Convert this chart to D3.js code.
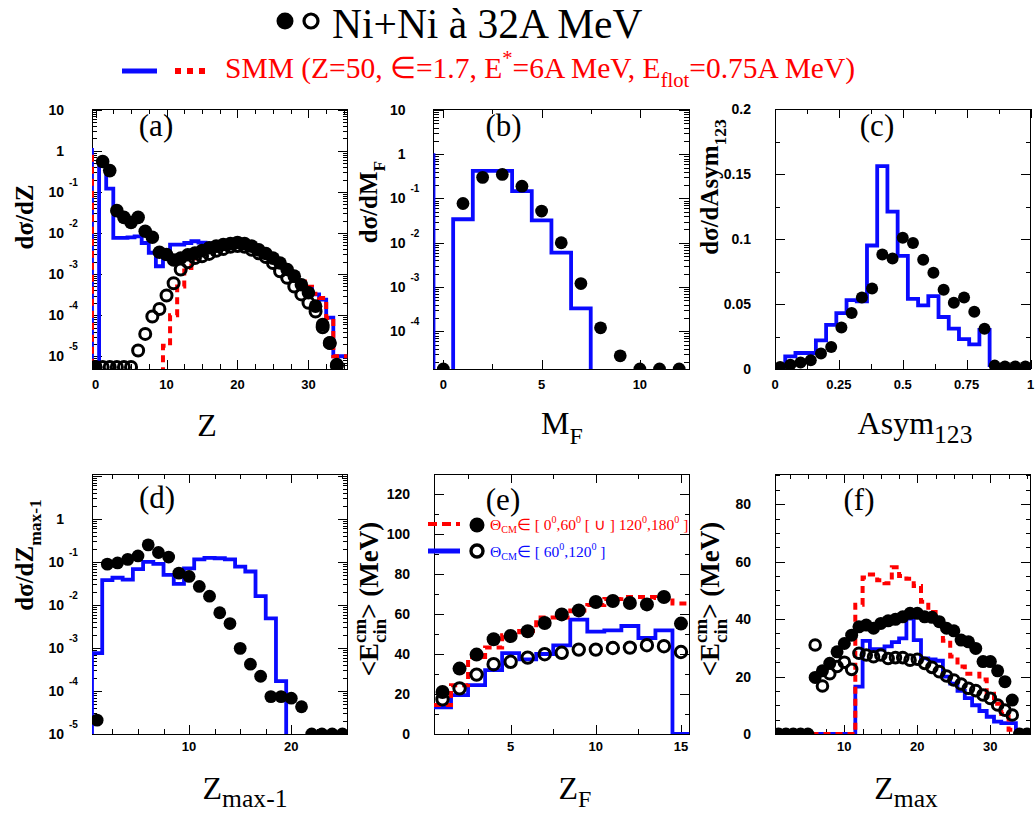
<!DOCTYPE html>
<html><head><meta charset="utf-8">
<script src="https://cdn.jsdelivr.net/npm/d3@7"></script>
<style>body{margin:0;background:#fff}svg{display:block}text{white-space:pre}</style>
</head><body>
<svg id="c" width="1035" height="818"></svg>
<script>
// ---------------- DATA ----------------
// (a) dσ/dZ
const aZ = [0,1,2,3,4,5,6,7,8,9,10,11,12,13,14,15,16,17,18,19,20,21,22,23,24,25,26,27,28,29,30,31,32,33,34];
const aFilled = [5.5e-6,0.55,0.33,0.035,0.024,0.018,0.024,0.011,0.0079,0.0034,0.0030,0.0022,0.00245,0.00295,0.00324,0.00372,0.00437,0.00479,0.00525,0.0055,0.00589,0.0055,0.00479,0.00389,0.00316,0.00245,0.00186,0.00129,0.00089,0.00055,0.00035,0.000166,0.000059,0.000021,0.0000063];
const aOpen = [5.5e-6,5.5e-6,5.5e-6,5.5e-6,5.5e-6,5.5e-6,1.38e-5,3.5e-5,9.3e-5,1.41e-4,3.0e-4,6.0e-4,1.29e-3,1.95e-3,2.45e-3,2.7e-3,3.1e-3,3.7e-3,4.1e-3,4.6e-3,4.8e-3,4.6e-3,3.9e-3,3.2e-3,2.6e-3,1.86e-3,1.17e-3,8.1e-4,5.0e-4,3.2e-4,2.0e-4,1.23e-4,5.1e-5,2.1e-5,5.9e-6];
const aBinZ = [-1,0,1,2,3,4,5,6,7,8,9,10,11,12,13,14,15,16,17,18,19,20,21,22,23,24,25,26,27,28,29,30,31,32,33,34,35];
const aBlue = [1.05,0,0.6,0.12,0.0076,0.0076,0.0078,0.0083,0.0057,0.0033,0.00155,0.0030,0.0052,0.0052,0.0057,0.0063,0.0058,0.0056,0.0052,0.005,0.005,0.0048,0.0047,0.0042,0.0035,0.0028,0.0022,0.00166,0.00117,0.00083,0.00063,0.00047,0.00032,0.00024,0.000087,0.00001,0.00001];
const aRed = [1.05,0,0,0,0,0,0,0,0,0,0,1.8e-5,1.0e-4,5.0e-4,1.4e-3,2.4e-3,3.2e-3,4.0e-3,4.5e-3,4.8e-3,4.9e-3,4.9e-3,4.6e-3,4.1e-3,3.4e-3,2.7e-3,2.1e-3,1.6e-3,1.15e-3,8.5e-4,6.6e-4,4.9e-4,3.3e-4,2.6e-4,8.5e-5,1.0e-5,1.0e-5];

// (b) dσ/dM_F
const bM = [0,1,2,3,4,5,6,7,8,9,10,11,12];
const bFilled = [1.41e-5,0.077,0.30,0.35,0.19,0.052,0.010,0.0012,1.2e-4,2.8e-5,1.41e-5,1.41e-5,1.41e-5];
const bBinM = [-1,0,1,2,3,4,5,6,7,8,9,10,11,12];
const bBlue = [0.95,0,0.034,0.42,0.42,0.146,0.032,0.006,3.3e-4,0,0,0,0,0];

// (c) dσ/dAsym123
const cAsym = [0.02,0.06,0.10,0.14,0.18,0.22,0.26,0.30,0.34,0.38,0.42,0.46,0.50,0.54,0.58,0.62,0.66,0.70,0.74,0.78,0.82,0.86,0.90,0.94,0.98];
const cFilled = [0.0015,0.0033,0.005,0.0067,0.012,0.017,0.032,0.043,0.055,0.062,0.088,0.085,0.101,0.097,0.084,0.074,0.061,0.051,0.055,0.044,0.031,0.0026,0.002,0.002,0.002];
const cBlue = [0.002,0.0097,0.0123,0.0123,0.022,0.034,0.043,0.053,0.052,0.095,0.156,0.121,0.087,0.054,0.049,0.056,0.040,0.031,0.023,0.019,0.030,0.003,0.002,0.001,0.001];

// (d) dσ/dZmax-1
const dZ = [1,2,3,4,5,6,7,8,9,10,11,12,13,14,15,16,17,18,19,20,21,22,23,24,25];
const dFilled = [2.1e-5,0.089,0.095,0.115,0.138,0.25,0.166,0.13,0.055,0.046,0.027,0.016,0.0066,0.0037,9.8e-4,4.2e-4,2.2e-4,7.4e-5,7.4e-5,6.8e-5,4.3e-5,1.0e-5,1.0e-5,1.0e-5,1.0e-5];
const dBinZ = [0,1,2,3,4,5,6,7,8,9,10,11,12,13,14,15,16,17,18,19,20];
const dBlue = [0,7.6e-4,0.038,0.043,0.039,0.068,0.10,0.09,0.05,0.031,0.071,0.115,0.125,0.122,0.115,0.078,0.06,0.016,0.0049,1.7e-4,0];

// (e) <Ecin> vs ZF
const eZ = [1,2,3,4,5,6,7,8,9,10,11,12,13,14,15];
const eFilled = [21,32.7,39.7,47.4,49,51.4,55.5,59.8,61.8,66,66.5,65.5,64.8,68.5,55.2];
const eOpen = [17.3,22.8,29.7,34.9,36.1,38.2,39.9,40.6,42.2,42.2,43,43.2,44.4,43.9,41];
const eBlue = [13.3,19.4,24.4,31.9,40.4,37.3,40,44.3,57.2,51.2,51.8,54,48,51.8,0];
const eRed = [14.5,24.4,38.5,43.2,49.4,51.5,58.2,58.2,61.8,64.5,67.5,68.5,68.5,68,65.2];

// (f) <Ecin> vs Zmax
const fZ = [1,2,3,4,5,6,7,8,9,10,11,12,13,14,15,16,17,18,19,20,21,22,23,24,25,26,27,28,29,30,31,32,33,34,35];
const fFilled = [0,0,0,0,0,19.7,22,24.6,28.6,31.5,34.4,37.3,37.9,36.8,38.5,39.4,39.9,40.8,42.0,42.0,40.8,40.6,39.1,36.8,35.9,32.7,32.1,29.8,25.2,25.2,22,18.2,11.8,0,0];
const fOpenZ = [6,7,8,9,10,11,12,13,14,15,16,17,18,19,20,21,22,23,24,25,26,27,28,29,30,31,32,33];
const fOpen = [31,16.7,21,23.5,25,22.5,28.1,27.5,26.9,27.5,26.3,26.6,26.6,25.7,26,24.6,23.2,21.7,20.2,18.8,17.4,15.9,15.1,13.6,12.4,10.1,8.3,6.6];
const fBinZ = [6,7,8,9,10,11,12,13,14,15,16,17,18,19,20,21,22,23,24,25,26,27,28,29,30,31,32,33,34];
const fBlue = [0,0,0,0,0,0,16.5,32.4,29.5,29.5,30.5,32,33.3,40.2,32.7,26.3,26,25.5,20,17.5,15,12.5,10,8,6,4.3,3.8,3.8,0];
const fRed = [0,0,0,0,0,0,45,54.5,55.5,53.5,52.5,58,55,54,51.5,46,42.5,39.5,32.5,27,23.5,21,21,19,14,10.5,7,1.5,0];

// tick labels
const logLabA = {v:[10,1,0.1,0.01,0.001,1e-4,1e-5], base:['10','1','10','10','10','10','10'], exp:['','','-1','-2','-3','-4','-5']};
const logLabB = {v:[10,1,0.1,0.01,0.001,1e-4], base:['10','1','10','10','10','10'], exp:['','','-1','-2','-3','-4']};
const logLabD = {v:[1,0.1,0.01,0.001,1e-4,1e-5], base:['1','10','10','10','10','10'], exp:['','-1','-2','-3','-4','-5']};
const cYLab = [0,0.05,0.1,0.15,0.2], cYTxt = ['0','0.05','0.1','0.15','0.2'];
const eYLab = [0,20,40,60,80,100,120];
const fYLab = [0,20,40,60,80];
const aXLab = [0,10,20,30], bXLab = [0,5,10], cXLab = [0,0.25,0.5,0.75,1], cXTxt=['0','0.25','0.5','0.75','1'];
const dXLab = [10,20], eXLab = [5,10,15], fXLab = [10,20,30];

// ---------------- DRAWING ----------------
const SERIF = '"Liberation Serif","Times New Roman",serif';
const SANS = '"Liberation Sans",Arial,sans-serif';
const BLUE = '#0a0aff', RED = '#ff0000';
const svg = d3.select('#c');

function rich(parent, parts, o) {
  const g = parent.append('g');
  const inner = g.append('g');
  let x = 0, prevX = 0, prevW = 0;
  parts.forEach(p => {
    const fs = o.size * (p.s || 1);
    const px = p.stack ? prevX : x;
    const t = inner.append('text').attr('x', px + (p.dx || 0)).attr('y', -(p.sh || 0) * o.size)
      .attr('font-size', fs).attr('font-family', o.family).attr('font-weight', o.weight || 'normal')
      .attr('fill', p.fill || o.fill || '#000').text(p.t);
    const w = t.node().getComputedTextLength() + (p.dx || 0);
    if (p.stack) { const m = Math.max(prevW, w); x = prevX + m; prevW = m; }
    else { prevX = x; prevW = w; x += w; }
  });
  const shift = o.anchor === 'middle' ? -x / 2 : o.anchor === 'end' ? -x : 0;
  inner.attr('transform', `translate(${shift},0)`);
  g.attr('transform', `translate(${o.x},${o.y})` + (o.rotate ? ` rotate(${o.rotate})` : ''));
  return g;
}

function tickAxis(g, scale, orient, vals, size, w, h) {
  const fn = {bottom: d3.axisBottom, top: d3.axisTop, left: d3.axisLeft, right: d3.axisRight}[orient];
  const ax = fn(scale).tickValues(vals).tickSize(-size).tickFormat('');
  const gg = g.append('g');
  if (orient === 'bottom') gg.attr('transform', `translate(0,${h})`);
  if (orient === 'right') gg.attr('transform', `translate(${w},0)`);
  gg.call(ax);
  gg.select('.domain').remove();
  gg.selectAll('line').attr('stroke', '#000').attr('stroke-width', 1).attr('shape-rendering', 'crispEdges');
}

function panel(P) {
  const g = svg.append('g').attr('transform', `translate(${P.x},${P.y})`);
  const x = d3.scaleLinear().domain(P.xd).range([0, P.w]);
  const y = (P.log ? d3.scaleLog() : d3.scaleLinear()).domain(P.yd).range([P.h, 0]);
  const yv = v => (P.log && v <= 0) ? P.h + 40 : y(v);
  const id = 'clip' + P.name;
  g.append('clipPath').attr('id', id).append('rect').attr('width', P.w).attr('height', P.h);
  const xMaj = P.xMaj, xMin = P.xMin;
  ['bottom', 'top'].forEach(o => { tickAxis(g, x, o, xMaj, 9, P.w, P.h); tickAxis(g, x, o, xMin, 5, P.w, P.h); });
  let yMaj, yMin;
  if (P.log) {
    const lo = Math.floor(Math.log10(P.yd[0])), hi = Math.ceil(Math.log10(P.yd[1]));
    yMaj = []; yMin = [];
    for (let d = lo; d <= hi; d++) {
      const b = Math.pow(10, d);
      if (b >= P.yd[0] && b <= P.yd[1]) yMaj.push(b);
      for (let k = 2; k <= 9; k++) { const v = k * b; if (v >= P.yd[0] && v <= P.yd[1]) yMin.push(v); }
    }
  } else { yMaj = P.yMaj; yMin = P.yMin; }
  ['left', 'right'].forEach(o => { tickAxis(g, y, o, yMaj, 10, P.w, P.h); tickAxis(g, y, o, yMin, 5, P.w, P.h); });
  g.append('rect').attr('width', P.w).attr('height', P.h).attr('fill', 'none').attr('stroke', '#000').attr('stroke-width', 1).attr('shape-rendering', 'crispEdges');
  P.xLab.forEach((v, i) => g.append('text').attr('x', x(v)).attr('y', P.h + P.xlabOff)
    .attr('text-anchor', 'middle').attr('font-family', SANS).attr('font-weight', 'bold').attr('font-size', 13)
    .text(P.xTxt ? P.xTxt[i] : String(v)));
  if (P.log) {
    const L = P.logLab;
    L.v.forEach((v, i) => {
      const yy = y(v);
      g.append('text').attr('x', -28).attr('y', yy + 5).attr('text-anchor', 'end').attr('font-family', SANS)
        .attr('font-weight', 'bold').attr('font-size', 14).text(L.base[i]);
      if (L.exp[i]) g.append('text').attr('x', -23).attr('y', yy - 6).attr('text-anchor', 'start').attr('font-family', SANS)
        .attr('font-weight', 'bold').attr('font-size', 10).text(L.exp[i]);
    });
  } else {
    P.yLab.forEach((v, i) => g.append('text').attr('x', -24).attr('y', y(v)).attr('dy', '0.36em').attr('text-anchor', 'end')
      .attr('font-family', SANS).attr('font-weight', 'bold').attr('font-size', 14).text(P.yTxt ? P.yTxt[i] : String(v)));
  }
  g.append('text').attr('x', P.lx).attr('y', P.ly).attr('text-anchor', 'middle').attr('font-family', SERIF)
    .attr('font-size', 31).text(P.letter);
  const data = g.append('g').attr('clip-path', `url(#${id})`);
  return {g, x, y, yv, data, P};
}

function hist(p, centers, vals, color, dashed, bw) {
  bw = bw || 1;
  const pts = centers.map((c, i) => [c - bw / 2, vals[i]]);
  pts.push([centers[centers.length - 1] + bw / 2, vals[vals.length - 1]]);
  const line = d3.line().x(d => p.x(d[0])).y(d => p.yv(d[1])).curve(d3.curveStepAfter);
  p.data.append('path').attr('d', line(pts)).attr('fill', 'none').attr('stroke', color)
    .attr('stroke-width', dashed ? 4 : 3.8).attr('stroke-dasharray', dashed ? '7,5' : null);
}
function dots(p, xs, vals, open, r) {
  r = r || 6.6;
  p.data.append('g').selectAll('circle').data(xs.map((x, i) => [x, vals[i]])).join('circle')
    .attr('cx', d => p.x(d[0])).attr('cy', d => p.yv(d[1]))
    .attr('r', open ? r - 1.5 : r)
    .attr('fill', open ? 'none' : '#000').attr('stroke', open ? '#000' : 'none').attr('stroke-width', open ? 3 : 0);
}

const W = 255.5, H = 260;
// (a)
const pa = panel({name: 'a', x: 92, y: 109, w: W, h: H, log: true, xd: [-0.5, 35.5], yd: [4.9e-6, 10.4],
  xMaj: aXLab, xMin: [2.5, 5, 7.5, 12.5, 15, 17.5, 22.5, 25, 27.5, 32.5, 35], xLab: aXLab, xlabOff: 20,
  logLab: logLabA, letter: '(a)', lx: 64, ly: 27});
hist(pa, aBinZ, aBlue, BLUE, false);
hist(pa, aBinZ, aRed, RED, true);
dots(pa, aZ, aFilled, false, 6.8);
dots(pa, aZ, aOpen, true, 7);

// (b)
const pb = panel({name: 'b', x: 433.5, y: 109, w: W, h: H, log: true, xd: [-0.5, 12.5], yd: [1.41e-5, 10.5],
  xMaj: bXLab, xMin: [2.5, 7.5, 12.5], xLab: bXLab, xlabOff: 20,
  logLab: logLabB, letter: '(b)', lx: 70, ly: 27});
hist(pb, bBinM, bBlue, BLUE, false);
dots(pb, bM, bFilled, false, 6.4);

// (c)
const pc = panel({name: 'c', x: 775, y: 109, w: W, h: H, log: false, xd: [0, 1], yd: [0, 0.2],
  xMaj: cXLab, xMin: [0.125, 0.375, 0.625, 0.875], xLab: cXLab, xTxt: cXTxt, xlabOff: 20,
  yMaj: cYLab, yMin: [0.025, 0.075, 0.125, 0.175], yLab: cYLab, yTxt: cYTxt, letter: '(c)', lx: 102, ly: 27});
hist(pc, cAsym, cBlue, BLUE, false, 0.04);
dots(pc, cAsym, cFilled, false, 6);

// (d)
const pd = panel({name: 'd', x: 92, y: 474, w: W, h: H, log: true, xd: [0.5, 25.5], yd: [1e-5, 11.1],
  xMaj: dXLab, xMin: [2.5, 5, 7.5, 12.5, 15, 17.5, 22.5, 25], xLab: dXLab, xlabOff: 17,
  logLab: logLabD, letter: '(d)', lx: 65, ly: 34});
hist(pd, dBinZ, dBlue, BLUE, false);
dots(pd, dZ, dFilled, false, 6.4);

// (e)
const pe = panel({name: 'e', x: 434, y: 474, w: W, h: H, log: false, xd: [0.5, 15.5], yd: [0, 130],
  xMaj: eXLab, xMin: [2.5, 7.5, 12.5], xLab: eXLab, xlabOff: 17,
  yMaj: [0, 20, 40, 60, 80, 100, 120], yMin: [10, 30, 50, 70, 90, 110, 130], yLab: eYLab, letter: '(e)', lx: 69, ly: 36});
hist(pe, eZ, eBlue, BLUE, false);
hist(pe, eZ, eRed, RED, true);
dots(pe, eZ, eFilled, false, 7);
dots(pe, eZ, eOpen, true, 7.2);

// (f)
const pf = panel({name: 'f', x: 775, y: 474, w: W, h: H, log: false, xd: [0.5, 35.5], yd: [0, 90.5],
  xMaj: fXLab, xMin: [2.5, 5, 7.5, 12.5, 15, 17.5, 22.5, 25, 27.5, 32.5, 35], xLab: fXLab, xlabOff: 17,
  yMaj: [0, 20, 40, 60, 80], yMin: [5, 10, 15, 25, 30, 35, 45, 50, 55, 65, 70, 75, 85, 90], yLab: fYLab, letter: '(f)', lx: 84, ly: 36});
hist(pf, fBinZ, fBlue, BLUE, false);
hist(pf, fBinZ, fRed, RED, true);
dots(pf, fZ, fFilled, false, 6.5);
dots(pf, fOpenZ, fOpen, true, 6.8);

// legend in (e)
pe.g.append('line').attr('x1', -6).attr('x2', 26).attr('y1', 50).attr('y2', 50).attr('stroke', RED).attr('stroke-width', 4).attr('stroke-dasharray', '9,5');
pe.g.append('circle').attr('cx', 43).attr('cy', 51).attr('r', 7.5).attr('fill', '#000');
rich(pe.g, [{t: 'Θ'}, {t: 'CM', s: 0.65, sh: -0.2}, {t: '∈ [ 0'}, {t: '0', s: 0.65, sh: 0.45}, {t: ',60'}, {t: '0', s: 0.65, sh: 0.45},
  {t: ' [ ∪ ] 120'}, {t: '0', s: 0.65, sh: 0.45}, {t: ',180'}, {t: '0', s: 0.65, sh: 0.45}, {t: ' ]'}],
  {x: 56, y: 56, size: 15.5, family: SERIF, fill: RED, anchor: 'start'});
pe.g.append('line').attr('x1', -6).attr('x2', 26).attr('y1', 77).attr('y2', 77).attr('stroke', BLUE).attr('stroke-width', 5);
pe.g.append('circle').attr('cx', 43).attr('cy', 77).attr('r', 6).attr('fill', 'none').attr('stroke', '#000').attr('stroke-width', 3.4);
rich(pe.g, [{t: 'Θ'}, {t: 'CM', s: 0.65, sh: -0.2}, {t: '∈ [ 60'}, {t: '0', s: 0.65, sh: 0.45}, {t: ',120'}, {t: '0', s: 0.65, sh: 0.45}, {t: ' ]'}],
  {x: 56, y: 83, size: 15.5, family: SERIF, fill: BLUE, anchor: 'start'});

// axis titles (bottom)
const bt = {size: 32, family: SERIF, anchor: 'middle'};
rich(svg, [{t: 'Z'}], Object.assign({x: 207, y: 436}, bt));
rich(svg, [{t: 'M'}, {t: 'F', s: 0.75, sh: -0.3}], Object.assign({x: 562, y: 434}, bt));
rich(svg, [{t: 'Asym'}, {t: '123', s: 0.8, sh: -0.28}], Object.assign({x: 915, y: 434}, bt));
rich(svg, [{t: 'Z'}, {t: 'max-1', s: 0.8, sh: -0.25}], Object.assign({x: 245, y: 799}, bt));
rich(svg, [{t: 'Z'}, {t: 'F', s: 0.75, sh: -0.25}], Object.assign({x: 575, y: 799}, bt));
rich(svg, [{t: 'Z'}, {t: 'max', s: 0.8, sh: -0.25}], Object.assign({x: 906, y: 799}, bt));

// axis titles (left, rotated)
const lt = {size: 25, family: SERIF, weight: 'bold', anchor: 'middle', rotate: -90};
rich(svg, [{t: 'dσ/dZ'}], Object.assign({x: 33, y: 217}, lt));
rich(svg, [{t: 'dσ/dM'}, {t: 'F', s: 0.7, sh: -0.3}], Object.assign({x: 377, y: 202}, lt));
rich(svg, [{t: 'dσ/dAsym'}, {t: '123', s: 0.7, sh: -0.3}], Object.assign({x: 718, y: 187}, lt));
rich(svg, [{t: 'dσ/dZ'}, {t: 'max-1', s: 0.7, sh: -0.3}], Object.assign({x: 33, y: 555}, lt));
const ecin = [{t: '<E'}, {t: 'cin', s: 0.7, sh: -0.3}, {t: 'cm', s: 0.7, sh: 0.45, stack: true}, {t: '> (MeV)'}];
rich(svg, ecin, Object.assign({x: 378, y: 599}, lt, {size: 27}));
rich(svg, ecin, Object.assign({x: 719, y: 599}, lt, {size: 27}));

// top title
svg.append('circle').attr('cx', 285).attr('cy', 21).attr('r', 8.5).attr('fill', '#000');
svg.append('circle').attr('cx', 311).attr('cy', 21).attr('r', 7).attr('fill', 'none').attr('stroke', '#000').attr('stroke-width', 3.2);
rich(svg, [{t: 'Ni+Ni à 32A MeV'}], {x: 332, y: 38, size: 41.5, family: SERIF, anchor: 'start'});
svg.append('line').attr('x1', 122).attr('x2', 157).attr('y1', 71).attr('y2', 71).attr('stroke', BLUE).attr('stroke-width', 5);
svg.append('line').attr('x1', 175).attr('x2', 206).attr('y1', 71).attr('y2', 71).attr('stroke', RED).attr('stroke-width', 6).attr('stroke-dasharray', '6,6');
rich(svg, [{t: 'SMM (Z=50, ∈=1.7, E'}, {t: '*', s: 0.7, sh: 0.45}, {t: '=6A MeV, E'}, {t: 'flot', s: 0.7, sh: -0.3}, {t: '=0.75A MeV)'}],
  {x: 225, y: 78, size: 29.5, family: SERIF, fill: RED, anchor: 'start'});
</script>
</body></html>
